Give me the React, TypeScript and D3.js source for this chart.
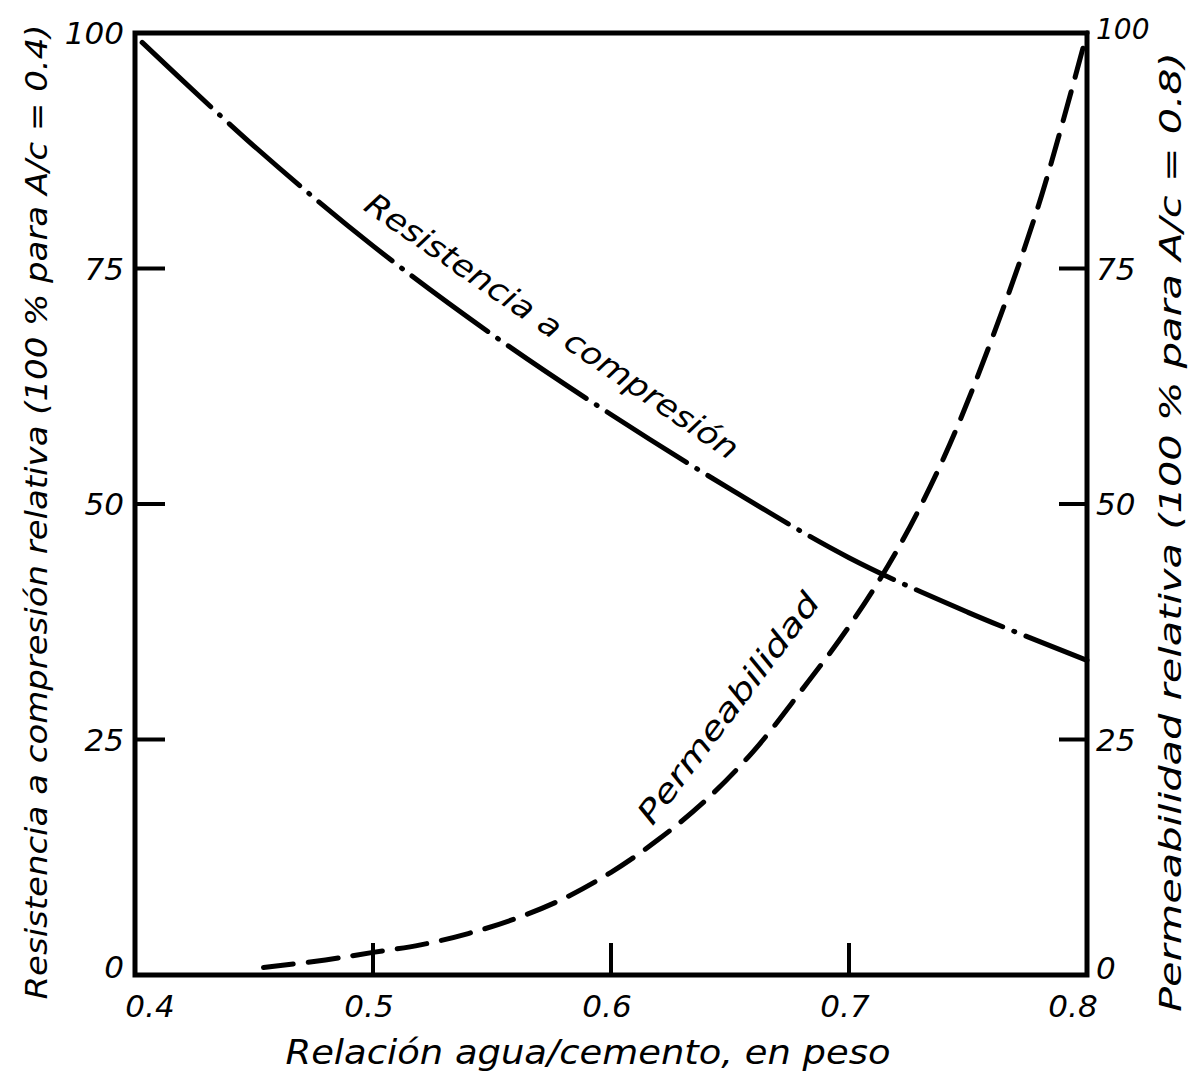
import { useEffect, useRef } from 'react';
import * as d3 from 'd3';

// axis ticks
const ratioTicks = [0.4, 0.5, 0.6, 0.7, 0.8];
const ratioTickLabels = ['0.4', '0.5', '0.6', '0.7', '0.8'];
const percentTicks = [0, 25, 50, 75, 100];
const percentTickLabels = ['0', '25', '50', '75', '100'];

// Resistencia a compresión relativa (%)
const strengthRatio = [0.403, 0.45, 0.5, 0.55, 0.6, 0.65, 0.7, 0.75, 0.8];
const strengthValue = [99, 88, 77.4, 68, 59.5, 51.6, 44.3, 38.5, 33.4];

// Permeabilidad relativa (%)
const permRatio = [0.454, 0.48, 0.5, 0.52, 0.54, 0.56, 0.58, 0.6, 0.62, 0.64, 0.66, 0.68, 0.7, 0.72, 0.74, 0.76, 0.78, 0.8];
const permValue = [0.8, 1.6, 2.4, 3.2, 4.4, 6.0, 8.1, 10.9, 14.4, 18.6, 23.8, 30.2, 37, 45, 55, 67.5, 82, 100];

const FONT = "'DejaVu Sans', sans-serif";

export default function App() {
  const ref = useRef<SVGSVGElement>(null);

  useEffect(() => {
    const width = 1200;
    const height = 1090;
    const left = 135, right = 1087, top = 33, bottom = 975;

    const x = d3.scaleLinear().domain([0.4, 0.8]).range([left, right]);
    const y = d3.scaleLinear().domain([0, 100]).range([bottom, top]);

    const svg = d3.select(ref.current)
      .attr('width', width)
      .attr('height', height)
      .attr('style', 'position:absolute;left:0;top:0;background:#fff');
    svg.selectAll('*').remove();

    // --- curves ---
    const line = d3.line<[number, number]>()
      .x(d => x(d[0]))
      .y(d => y(d[1]))
      .curve(d3.curveCatmullRom.alpha(0.5));

    svg.append('path')
      .attr('d', line(strengthRatio.map((r, i) => [r, strengthValue[i]] as [number, number])))
      .attr('fill', 'none')
      .attr('stroke', '#000')
      .attr('stroke-width', 5)
      .attr('stroke-linecap', 'round')
      .attr('stroke-dasharray', '94,12,1,12');

    svg.append('path')
      .attr('d', line(permRatio.map((r, i) => [r, permValue[i]] as [number, number])))
      .attr('fill', 'none')
      .attr('stroke', '#000')
      .attr('stroke-width', 5)
      .attr('stroke-linecap', 'round')
      .attr('stroke-dasharray', '30,15');

    // --- frame ---
    svg.append('rect')
      .attr('x', left).attr('y', top)
      .attr('width', right - left).attr('height', bottom - top)
      .attr('fill', 'none')
      .attr('stroke', '#000')
      .attr('stroke-width', 5);

    // x ticks (inside, upward)
    svg.append('g').selectAll('line')
      .data(ratioTicks.slice(1, -1))
      .join('line')
      .attr('x1', d => x(d)).attr('x2', d => x(d))
      .attr('y1', bottom).attr('y2', bottom - 32)
      .attr('stroke', '#000').attr('stroke-width', 4);

    // y ticks, both sides, inside
    const inner = percentTicks.slice(1, -1);
    svg.append('g').selectAll('line')
      .data(inner)
      .join('line')
      .attr('x1', left).attr('x2', left + 30)
      .attr('y1', d => y(d)).attr('y2', d => y(d))
      .attr('stroke', '#000').attr('stroke-width', 4);
    svg.append('g').selectAll('line')
      .data(inner)
      .join('line')
      .attr('x1', right - 28).attr('x2', right)
      .attr('y1', d => y(d)).attr('y2', d => y(d))
      .attr('stroke', '#000').attr('stroke-width', 4);

    const txt = (g: any) => g
      .attr('font-family', FONT)
      .attr('font-style', 'italic')
      .attr('fill', '#000');

    // x tick labels
    svg.append('g').call(txt).selectAll('text')
      .data(ratioTicks)
      .join('text')
      .attr('x', (d, i) => x(d) + (i === 0 ? 15 : i === ratioTicks.length - 1 ? -14 : -4))
      .attr('y', 1006)
      .attr('text-anchor', 'middle')
      .attr('dominant-baseline', 'central')
      .attr('font-size', 31)
      .text((d, i) => ratioTickLabels[i]);

    // left tick labels
    svg.append('g').call(txt).selectAll('text')
      .data(percentTicks)
      .join('text')
      .attr('x', 124)
      .attr('y', d => y(d) + (d === 0 ? -8 : 0))
      .attr('text-anchor', 'end')
      .attr('dominant-baseline', 'central')
      .attr('font-size', 31)
      .text((d, i) => percentTickLabels[i]);

    // right tick labels
    svg.append('g').call(txt).selectAll('text')
      .data(percentTicks)
      .join('text')
      .attr('x', 1096)
      .attr('y', d => y(d) + (d === 0 ? -7 : d === 100 ? -4 : 0))
      .attr('text-anchor', 'start')
      .attr('dominant-baseline', 'central')
      .attr('font-size', d => (d === 100 ? 28 : 31))
      .text((d, i) => percentTickLabels[i]);

    // axis titles
    svg.append('text').call(txt)
      .attr('x', 588).attr('y', 1052)
      .attr('text-anchor', 'middle')
      .attr('dominant-baseline', 'central')
      .attr('font-size', 34)
      .attr('textLength', 605)
      .attr('lengthAdjust', 'spacingAndGlyphs')
      .text('Relación agua/cemento, en peso');

    svg.append('text').call(txt)
      .attr('transform', 'translate(36,512) rotate(-90)')
      .attr('text-anchor', 'middle')
      .attr('dominant-baseline', 'central')
      .attr('font-size', 31)
      .attr('textLength', 975)
      .attr('lengthAdjust', 'spacingAndGlyphs')
      .text('Resistencia a compresión relativa (100 % para A/c = 0.4)');

    svg.append('text').call(txt)
      .attr('transform', 'translate(1170,532) rotate(-90)')
      .attr('text-anchor', 'middle')
      .attr('dominant-baseline', 'central')
      .attr('font-size', 30)
      .attr('textLength', 960)
      .attr('lengthAdjust', 'spacingAndGlyphs')
      .text('Permeabilidad relativa  (100 % para A/c = 0.8)');

    // curve labels
    svg.append('text').call(txt)
      .attr('transform', 'translate(552,326) rotate(34.4)')
      .attr('text-anchor', 'middle')
      .attr('dominant-baseline', 'central')
      .attr('font-size', 31)
      .attr('textLength', 445)
      .attr('lengthAdjust', 'spacingAndGlyphs')
      .text('Resistencia a compresión');

    svg.append('text').call(txt)
      .attr('transform', 'translate(728,708) rotate(-53)')
      .attr('text-anchor', 'middle')
      .attr('dominant-baseline', 'central')
      .attr('font-size', 31)
      .attr('textLength', 280)
      .attr('lengthAdjust', 'spacingAndGlyphs')
      .text('Permeabilidad');
  }, []);

  return <svg ref={ref}></svg>;
}
